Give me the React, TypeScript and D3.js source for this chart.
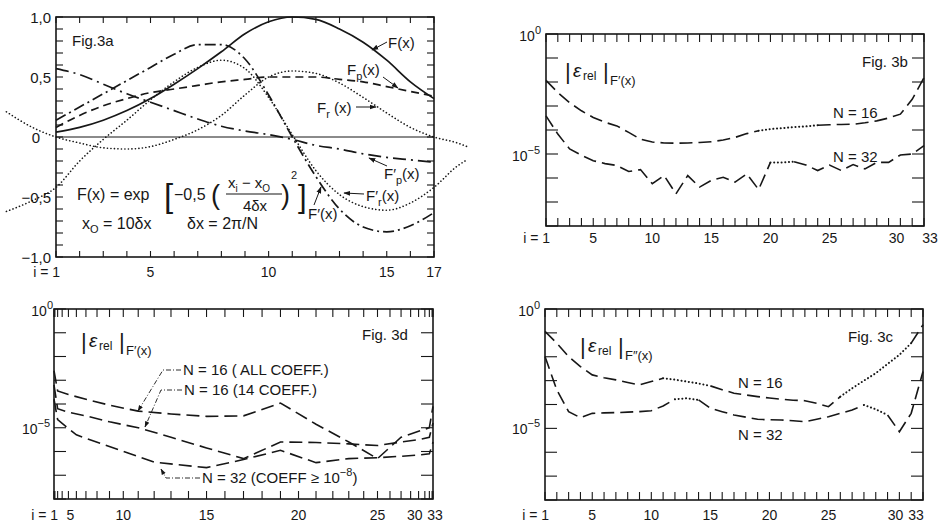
import React from "react";
import * as d3 from "d3";

// ---------- Fig. 3a : F(x) and derivatives, N = 16 grid ----------
const iA = [1, 2, 3, 4, 5, 6, 7, 8, 9, 10, 11, 12, 13, 14, 15, 16, 17];
const fExact = [0.04, 0.08, 0.14, 0.22, 0.32, 0.44, 0.57, 0.71, 0.86, 0.96, 1.0, 0.98, 0.9, 0.79, 0.64, 0.46, 0.32];
const fPoly = [0.08, 0.18, 0.26, 0.32, 0.37, 0.4, 0.43, 0.46, 0.48, 0.5, 0.5, 0.5, 0.48, 0.46, 0.42, 0.38, 0.34];
const dfExact = [0.14, 0.25, 0.36, 0.47, 0.58, 0.69, 0.77, 0.77, 0.65, 0.35, 0.0, -0.33, -0.6, -0.75, -0.79, -0.74, -0.63];
const dfPoly = [0.57, 0.52, 0.44, 0.36, 0.29, 0.22, 0.15, 0.09, 0.05, 0.02, -0.02, -0.07, -0.1, -0.14, -0.17, -0.19, -0.21];
// periodic (Fourier) curves run past both edges of the frame
const iR = [-1.1, 0, 1, 2, 3, 4, 5, 6, 7, 8, 9, 10, 11, 12, 13, 14, 15, 16, 17, 18, 18.4];
const fFourier = [0.21, 0.08, 0, -0.05, -0.09, -0.1, -0.08, -0.02, 0.06, 0.18, 0.35, 0.5, 0.55, 0.53, 0.45, 0.33, 0.2, 0.08, 0, -0.05, -0.08];
const dfFourier = [-0.62, -0.53, -0.42, -0.2, -0.02, 0.14, 0.31, 0.46, 0.58, 0.64, 0.57, 0.33, 0.02, -0.28, -0.48, -0.58, -0.61, -0.55, -0.42, -0.24, -0.19];
const aYLabels = [1, 0.5, 0, -0.5, -1];
const aXLabels = [5, 10, 15, 17];

// ---------- error panels, i = 1..33 (values are log10 of |eps_rel|) ----------
const iFull = [1, 2, 3, 4, 5, 6, 7, 8, 9, 10, 11, 12, 13, 14, 15, 16, 17, 18, 19, 20, 21, 22, 23, 24, 25, 26, 27, 28, 29, 30, 31, 32, 33];
const xLabels = [5, 10, 15, 20, 25, 30, 33];

// Fig. 3b
const b16 = [-1.93, -2.44, -2.86, -3.2, -3.48, -3.68, -3.83, -4.1, -4.38, -4.5, -4.54, -4.55, -4.54, -4.52, -4.49, -4.42, -4.31, -4.15, -4.03, -3.96, -3.92, -3.88, -3.85, -3.8, -3.78, -3.77, -3.76, -3.7, -3.62, -3.5, -3.34, -2.72, -1.82];
const b16Dotted = [[19, 24]];
const b32 = [-3.41, -4.17, -4.79, -5.05, -5.28, -5.4, -5.48, -5.73, -5.65, -6.24, -5.9, -6.66, -5.9, -6.38, -6.1, -5.97, -6.17, -5.83, -6.48, -5.35, -5.35, -5.32, -5.46, -5.69, -5.46, -5.69, -5.44, -5.62, -5.35, -5.35, -5.04, -5.0, -4.65];
const b32Dotted = [[20, 22]];

// Fig. 3c
const c16 = [-0.94, -1.43, -1.99, -2.41, -2.76, -2.88, -2.97, -3.08, -3.18, -3.04, -2.9, -2.96, -3.04, -3.12, -3.22, -3.38, -3.53, -3.6, -3.67, -3.73, -3.78, -3.82, -3.84, -3.95, -4.09, -3.67, -3.32, -3.0, -2.69, -2.3, -1.92, -1.43, -0.66];
const c16Dotted = [[11, 15], [26, 32]];
const c32 = [-1.99, -3.39, -4.3, -4.55, -4.37, -4.35, -4.34, -4.32, -4.3, -4.26, -4.06, -3.78, -3.74, -3.81, -4.16, -4.3, -4.44, -4.53, -4.62, -4.64, -4.65, -4.68, -4.72, -4.62, -4.51, -4.37, -4.23, -4.02, -4.2, -4.44, -5.14, -4.37, -2.62];
const c32Dotted = [[12, 14], [28, 30]];

// Fig. 3d (x axis at Chebyshev collocation points)
const dI16 = [1, 3, 5, 7, 9, 11, 13, 15, 17, 19, 21, 23, 25, 27, 29, 31, 33];
const dAll = [-2.6, -3.45, -3.6, -3.8, -4.05, -4.3, -4.42, -4.52, -4.5, -3.96, -4.85, -5.6, -6.3, -5.4, -5.15, -5.0, -4.1];
const d14 = [-3.2, -4.2, -4.35, -4.5, -4.75, -5.0, -5.4, -5.85, -6.3, -5.6, -5.62, -5.68, -5.75, -5.6, -5.5, -5.4, -4.8];
const dI32 = [1, 3, 6, 12, 15, 17, 19, 21, 23, 25, 27, 29, 31, 33];
const d32 = [-3.8, -4.66, -5.3, -6.45, -6.68, -6.34, -5.95, -6.47, -6.3, -6.26, -6.2, -6.15, -6.1, -5.6];

const INK = "#171717";
const FONT = "'Liberation Sans', 'DejaVu Sans', Arial, sans-serif";

type Frame = { x0: number; x1: number; y0: number; y1: number };
const FA: Frame = { x0: 56, x1: 434, y0: 17, y1: 257 };
const FB: Frame = { x0: 546, x1: 924, y0: 34, y1: 226 };
const FC: Frame = { x0: 545, x1: 923, y0: 309, y1: 500 };
const FD: Frame = { x0: 54, x1: 433, y0: 309, y1: 499 };

function pieces(xs: number[], ys: number[], dotted: number[][]) {
  const out: { pts: [number, number][]; dotted: boolean }[] = [];
  for (let k = 0; k < xs.length - 1; k++) {
    const isDot = dotted.some(([a, b]) => xs[k] >= a && xs[k + 1] <= b);
    const last = out[out.length - 1];
    if (last && last.dotted === isDot) last.pts.push([xs[k + 1], ys[k + 1]]);
    else out.push({ pts: [[xs[k], ys[k]], [xs[k + 1], ys[k + 1]]], dotted: isDot });
  }
  return out;
}

function Box({ f }: { f: Frame }) {
  return <rect x={f.x0} y={f.y0} width={f.x1 - f.x0} height={f.y1 - f.y0} fill="none" stroke={INK} strokeWidth={1.6} />;
}

function Ticks({ f, xs, ys, xl, yl }: { f: Frame; xs: number[]; ys: number[]; xl: number; yl: number }) {
  return (
    <g stroke={INK} strokeWidth={1.1}>
      {xs.map((x, k) => (
        <g key={"x" + k}>
          <line x1={x} x2={x} y1={f.y0} y2={f.y0 + xl} />
          <line x1={x} x2={x} y1={f.y1} y2={f.y1 - xl} />
        </g>
      ))}
      {ys.map((y, k) => (
        <g key={"y" + k}>
          <line x1={f.x0} x2={f.x0 + yl} y1={y} y2={y} />
          <line x1={f.x1} x2={f.x1 - yl} y1={y} y2={y} />
        </g>
      ))}
    </g>
  );
}

function LogCurve({ xs, ys, dotted, x, y }: { xs: number[]; ys: number[]; dotted: number[][]; x: (v: number) => number; y: d3.ScaleLogarithmic<number, number> }) {
  const line = d3.line<[number, number]>().x((d) => x(d[0])).y((d) => y(Math.pow(10, d[1])));
  return (
    <g fill="none" stroke={INK}>
      {pieces(xs, ys, dotted).map((p, k) => (
        <path key={k} d={line(p.pts) || ""} strokeWidth={p.dotted ? 2 : 1.6}
          strokeDasharray={p.dotted ? "0.1,3.6" : "13,6"} strokeLinecap={p.dotted ? "round" : "butt"} />
      ))}
    </g>
  );
}

function Pow({ x, y, exp }: { x: number; y: number; exp: string }) {
  return (
    <text x={x} y={y} textAnchor="end" fontSize={14}>
      10<tspan dy={-7} fontSize={11}>{exp}</tspan>
    </text>
  );
}

function EpsLabel({ x, y, sub }: { x: number; y: number; sub: string }) {
  return (
    <g>
      <text x={x} y={y + 2} fontSize={22}>|</text>
      <text x={x + 8} y={y} fontSize={19} fontStyle="italic">ε</text>
      <text x={x + 18} y={y + 3} fontSize={12}>rel</text>
      <text x={x + 38} y={y + 2} fontSize={22}>|</text>
      <text x={x + 45} y={y + 8} fontSize={13}>{sub}</text>
    </g>
  );
}

function XLabels({ x, labels, baseline, shift }: { x: (v: number) => number; labels: number[]; baseline: number; shift: Record<number, number> }) {
  return (
    <g fontSize={14}>
      <text x={x(1) + 4} y={baseline} textAnchor="end">i = 1</text>
      {labels.map((v) => (
        <text key={v} x={x(v) + (shift[v] || 0)} y={baseline} textAnchor="middle">{v}</text>
      ))}
    </g>
  );
}

// F with prime and subscript, e.g. F'_p(x)
function FLabel({ x, y, prime, sub, gap }: { x: number; y: number; prime?: boolean; sub?: string; gap?: string }) {
  return (
    <text x={x} y={y} fontSize={15}>
      F{prime ? "′" : ""}
      {sub ? <tspan dy={5} fontSize={11}>{sub}</tspan> : null}
      <tspan dy={sub ? -5 : 0}>{(gap || "") + "(x)"}</tspan>
    </text>
  );
}

export default function App() {
  // ---- Fig. 3a scales
  const xa = d3.scaleLinear().domain([1, 17]).range([FA.x0, FA.x1]);
  const ya = d3.scaleLinear().domain([-1, 1]).range([FA.y1, FA.y0]);
  const smooth = (xs: number[], ys: number[]) =>
    d3.line<number>().x((_, k) => xa(xs[k])).y((d) => ya(d)).curve(d3.curveMonotoneX)(ys) || "";

  // ---- log panels
  const yb = d3.scaleLog().domain([1e-8, 1]).range([FB.y1, FB.y0]);
  const yc = d3.scaleLog().domain([1e-8, 1]).range([FC.y1, FC.y0]);
  const yd = d3.scaleLog().domain([1e-8, 1]).range([FD.y1, FD.y0]);
  const xb = d3.scaleLinear().domain([1, 33]).range([FB.x0, FB.x1]);
  const xc = d3.scaleLinear().domain([1, 33]).range([FC.x0, FC.x1]);
  const chebPos = d3.scaleLinear().domain([1, -1]).range([FD.x0, FD.x1]);
  const xd = (i: number) => chebPos(Math.cos((Math.PI * (i - 1)) / 32));
  const decades = d3.range(-8, 1).map((e) => Math.pow(10, e));

  return (
    <svg width={941} height={525} style={{ position: "absolute", left: 0, top: 0, background: "#fff" }}
      fontFamily={FONT} fill={INK}>
      <defs>
        <marker id="arr" viewBox="0 0 10 10" refX="9" refY="5" markerWidth="7" markerHeight="7" orient="auto">
          <path d="M0,1.5 L10,5 L0,8.5 z" fill={INK} />
        </marker>
      </defs>

      {/* ================= Fig. 3a ================= */}
      <Box f={FA} />
      <Ticks f={FA} xs={iA.map(xa)} ys={d3.range(-10, 11).map((k) => ya(k / 10))} xl={6} yl={7} />
      <line x1={FA.x0} x2={FA.x1} y1={ya(0)} y2={ya(0)} stroke={INK} strokeWidth={1} />
      <g fill="none" stroke={INK} strokeWidth={1.7}>
        <path d={smooth(iA, fExact)} />
        <path d={smooth(iA, fPoly)} strokeDasharray="8,5" />
        <path d={smooth(iA, dfExact)} strokeDasharray="11,4,2,4" />
        <path d={smooth(iA, dfPoly)} strokeDasharray="13,5,2,5" />
        <path d={smooth(iR, fFourier)} strokeDasharray="0.1,3.4" strokeLinecap="round" strokeWidth={1.6} />
        <path d={smooth(iR, dfFourier)} strokeDasharray="0.1,3.4" strokeLinecap="round" strokeWidth={1.6} />
      </g>
      <g fontSize={15} textAnchor="end" dominantBaseline="central">
        {aYLabels.map((v) => (
          <text key={v} x={v === 0 ? 40 : 51} y={ya(v)}>
            {v === 0 ? "0" : (v < 0 ? "−" : "") + Math.abs(v).toFixed(1).replace(".", ",")}
          </text>
        ))}
      </g>
      <XLabels x={xa} labels={aXLabels} baseline={277} shift={{}} />
      <text x={72} y={46} fontSize={15}>Fig.3a</text>
      {/* curve labels */}
      <FLabel x={388} y={48} />
      <FLabel x={347} y={75} sub="p" />
      <FLabel x={317} y={113} sub="r" gap=" " />
      <FLabel x={384} y={179} prime sub="p" />
      <FLabel x={366} y={201} prime sub="r" />
      <FLabel x={308} y={219} prime />
      <g stroke={INK} strokeWidth={1} markerEnd="url(#arr)">
        <line x1={387} y1={42} x2={372} y2={50} />
        <line x1={383} y1={77} x2={398} y2={88} />
        <line x1={356} y1={107} x2={376} y2={107} />
        <line x1={387} y1={166} x2={369} y2={158} />
        <line x1={364} y1={194} x2={344} y2={193} />
        <line x1={314} y1={205} x2={321} y2={187} />
      </g>
      {/* formula */}
      <g fontSize={16}>
        <text x={77} y={200}>F(x) = exp</text>
        <text x={164} y={207} fontSize={33} fontWeight={300}>[</text>
        <text x={174} y={200}>−0,5</text>
        <text x={211} y={204} fontSize={27} fontWeight={300}>(</text>
        <text x={228} y={188} fontSize={15}>x<tspan dy={4} fontSize={10}>i</tspan><tspan dy={-4}> − x</tspan><tspan dy={4} fontSize={10}>O</tspan></text>
        <line x1={226} x2={282} y1={194} y2={194} stroke={INK} strokeWidth={1.2} />
        <text x={255} y={211} fontSize={15} textAnchor="middle">4δx</text>
        <text x={281} y={204} fontSize={27} fontWeight={300}>)</text>
        <text x={291} y={179} fontSize={11}>2</text>
        <text x={298} y={207} fontSize={31} fontWeight={300}>]</text>
        <text x={82} y={229}>x<tspan dy={4} fontSize={11}>O</tspan><tspan dy={-4}> = 10δx</tspan></text>
        <text x={187} y={229}>δx = 2π/N</text>
      </g>

      {/* ================= Fig. 3b ================= */}
      <Box f={FB} />
      <Ticks f={FB} xs={iFull.map(xb)} ys={decades.map(yb)} xl={8} yl={12} />
      <LogCurve xs={iFull} ys={b16} dotted={b16Dotted} x={xb} y={yb} />
      <LogCurve xs={iFull} ys={b32} dotted={b32Dotted} x={xb} y={yb} />
      <Pow x={541} y={41} exp="0" />
      <Pow x={540} y={161} exp="−5" />
      <XLabels x={xb} labels={xLabels} baseline={243} shift={{ 30: 8, 33: 6 }} />
      <EpsLabel x={565} y={77} sub="F′(x)" />
      <text x={862} y={67} fontSize={15}>Fig. 3b</text>
      <text x={833} y={118} fontSize={15}>N = 16</text>
      <text x={833} y={162} fontSize={15}>N = 32</text>

      {/* ================= Fig. 3c ================= */}
      <Box f={FC} />
      <Ticks f={FC} xs={iFull.map(xc)} ys={decades.map(yc)} xl={8} yl={12} />
      <LogCurve xs={iFull} ys={c16} dotted={c16Dotted} x={xc} y={yc} />
      <LogCurve xs={iFull} ys={c32} dotted={c32Dotted} x={xc} y={yc} />
      <Pow x={540} y={316} exp="0" />
      <Pow x={540} y={434} exp="−5" />
      <XLabels x={xc} labels={xLabels} baseline={520} shift={{ 30: 8, 33: -7 }} />
      <EpsLabel x={580} y={352} sub="F″(x)" />
      <text x={848} y={342} fontSize={15}>Fig. 3c</text>
      <text x={738} y={388} fontSize={15}>N = 16</text>
      <text x={738} y={440} fontSize={15}>N = 32</text>

      {/* ================= Fig. 3d ================= */}
      <Box f={FD} />
      <Ticks f={FD} xs={iFull.map(xd)} ys={decades.map(yd)} xl={8} yl={12} />
      <LogCurve xs={dI16} ys={dAll} dotted={[]} x={xd} y={yd} />
      <LogCurve xs={dI16} ys={d14} dotted={[]} x={xd} y={yd} />
      <LogCurve xs={dI32} ys={d32} dotted={[]} x={xd} y={yd} />
      <Pow x={53} y={316} exp="0" />
      <Pow x={50} y={434} exp="−5" />
      <XLabels x={xd} labels={xLabels} baseline={520} shift={{ 5: 2, 30: -10, 33: 2 }} />
      <EpsLabel x={81} y={347} sub="F′(x)" />
      <text x={362} y={340} fontSize={15}>Fig. 3d</text>
      <g fontSize={15}>
        <text x={183} y={375}>N = 16 ( ALL  COEFF.)</text>
        <text x={184} y={395}>N = 16 (14 COEFF.)</text>
        <text x={202} y={483}>N = 32 (COEFF ≥ 10<tspan dy={-7} fontSize={11}>−8</tspan><tspan dy={7}>)</tspan></text>
      </g>
      <g fill="none" stroke={INK} strokeWidth={0.9} strokeDasharray="5,2,1,2" markerEnd="url(#arr)">
        <polyline points="181,370 163,370 138,411" />
        <polyline points="182,390 161,390 145,427" />
        <polyline points="200,478 166,478 161,469" />
      </g>
    </svg>
  );
}
